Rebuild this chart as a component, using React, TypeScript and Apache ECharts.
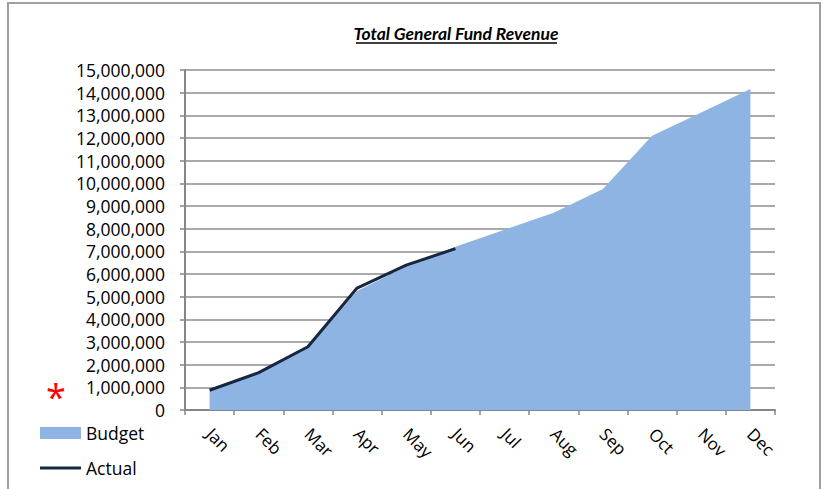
import React, { useEffect, useRef } from "react";
import * as echarts from "echarts";

const months = ["Jan", "Feb", "Mar", "Apr", "May", "Jun", "Jul", "Aug", "Sep", "Oct", "Nov", "Dec"];
const budget = [850000, 1620000, 2750000, 5250000, 6330000, 7200000, 7950000, 8700000, 9750000, 12100000, 13130000, 14160000];
const actual: (number | null)[] = [870000, 1650000, 2790000, 5380000, 6390000, 7120000, null, null, null, null, null, null];

const FONT = "Open Sans";

export default function App() {
  const ref = useRef<HTMLDivElement>(null);
  useEffect(() => {
    if (!ref.current) return;
    const chart = echarts.init(ref.current, null, { renderer: "svg" });
    chart.setOption({
      animation: false,
      backgroundColor: "#ffffff",
      grid: { left: 185, right: 50, top: 70, bottom: 79, containLabel: false },
      xAxis: {
        type: "category",
        data: months,
        boundaryGap: true,
        axisLine: { show: true, lineStyle: { color: "#868686", width: 2 } },
        axisTick: { show: true, interval: 0, length: 5, lineStyle: { color: "#868686", width: 1.5 } },
        axisLabel: { rotate: -45, margin: 21, fontFamily: FONT, fontSize: 17, color: "#000" },
      },
      yAxis: {
        type: "value",
        min: 0,
        max: 15000000,
        interval: 1000000,
        axisLine: { show: true, lineStyle: { color: "#868686", width: 2 } },
        axisTick: { show: true, length: 5, lineStyle: { color: "#868686", width: 1.5 } },
        axisLabel: {
          fontFamily: FONT,
          fontSize: 17.5,
          color: "#000",
          margin: 20,
          formatter: (v: number) => v.toLocaleString("en-US"),
        },
        splitLine: { show: true, lineStyle: { color: "#8c8c8c", width: 1.5 } },
      },
      series: [
        {
          name: "Budget",
          type: "line",
          data: budget,
          symbol: "none",
          lineStyle: { width: 0 },
          areaStyle: { color: "#8eb4e3", opacity: 1 },
          itemStyle: { color: "#8eb4e3" },
          z: 2,
        },
        {
          name: "Actual",
          type: "line",
          data: actual,
          symbol: "none",
          connectNulls: false,
          lineStyle: { width: 3, color: "#17273f" },
          itemStyle: { color: "#17273f" },
          z: 3,
        },
      ],
      graphic: [
        {
          type: "rect",
          shape: { x: 8, y: 3, width: 812, height: 520 },
          style: { fill: "none", stroke: "#a0a0a0", lineWidth: 2 },
          silent: true,
        },
        {
          type: "text",
          x: 456,
          y: 33,
          style: {
            text: "Total General Fund Revenue",
            fontFamily: "Lato",
            fontSize: 17.5,
            fontWeight: "bold",
            fontStyle: "italic",
            fill: "#000",
            align: "center",
            verticalAlign: "middle",
          },
        },
        {
          type: "line",
          shape: { x1: 356, y1: 43, x2: 557, y2: 43 },
          style: { stroke: "#000", lineWidth: 1.5 },
        },
        {
          type: "text",
          x: 56,
          y: 396,
          style: {
            text: "*",
            fontFamily: FONT,
            fontSize: 36,
            fill: "#ff0000",
            align: "center",
            verticalAlign: "middle",
          },
        },
        {
          type: "rect",
          shape: { x: 40, y: 427, width: 41, height: 12 },
          style: { fill: "#8eb4e3" },
        },
        {
          type: "text",
          x: 86,
          y: 433,
          style: { text: "Budget", fontFamily: FONT, fontSize: 17.5, fill: "#000", verticalAlign: "middle" },
        },
        {
          type: "line",
          shape: { x1: 40, y1: 468, x2: 81, y2: 468 },
          style: { stroke: "#17273f", lineWidth: 3 },
        },
        {
          type: "text",
          x: 86,
          y: 468,
          style: { text: "Actual", fontFamily: FONT, fontSize: 17.5, fill: "#000", verticalAlign: "middle" },
        },
      ],
    });
    return () => chart.dispose();
  }, []);
  return (
    <div
      ref={ref}
      style={{ position: "fixed", left: 0, top: 0, width: 825, height: 489 }}
    />
  );
}
